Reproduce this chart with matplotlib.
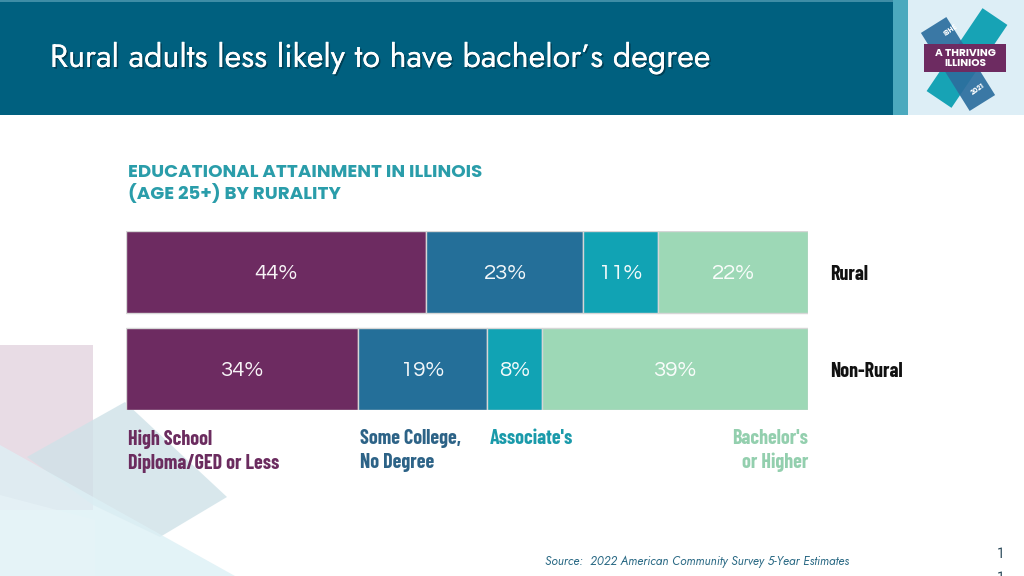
import numpy as np
import matplotlib
matplotlib.use("Agg")
import matplotlib.pyplot as plt
from matplotlib.patches import Rectangle, Polygon
import matplotlib.patheffects as pe
import logging
logging.getLogger("matplotlib.font_manager").setLevel(logging.ERROR)

# ---------------- data ----------------
groups = ["Rural", "Non-Rural"]
categories = ["High School\nDiploma/GED or Less", "Some College,\nNo Degree",
              "Associate's", "Bachelor's\nor Higher"]
rural = [44, 23, 11, 22]
non_rural = [34, 19, 8, 39]
values = [rural, non_rural]

title = "Rural adults less likely to have bachelor\u2019s degree"
subtitle = "EDUCATIONAL ATTAINMENT IN ILLINOIS\n(AGE 25+) BY RURALITY"
source = "Source:  2022 American Community Survey 5-Year Estimates"

bar_colors = ["#6D2B61", "#246F99", "#11A3B4", "#9DD8B6"]
label_colors = ["#6B2C5F", "#2D6387", "#1A9AAA", "#93CFAE"]

F_TITLE = ["Jost", "Questrial", "Lato", "DejaVu Sans"]
F_PCT = ["Questrial", "Didact Gothic", "Jost", "Lato", "DejaVu Sans"]
F_COND = ["Barlow Condensed", "Roboto Condensed", "Archivo Narrow", "Oswald", "DejaVu Sans"]
F_SUB = ["Poppins", "Lato", "DejaVu Sans"]

W, H = 1024, 576
fig = plt.figure(figsize=(W / 100, H / 100), dpi=100)
fig.patch.set_facecolor("white")

# ---------------- background / decoration axes (pixel coords) ----------------
bg = fig.add_axes([0, 0, 1, 1], zorder=0)
bg.set_xlim(0, W)
bg.set_ylim(H, 0)
bg.axis("off")

bg.add_patch(Polygon([(0, 345), (93, 345), (93, 510), (0, 510)], closed=True,
                     facecolor="#E4D6E1", edgecolor="none", alpha=0.85))
bg.add_patch(Polygon([(27, 457), (125, 402), (227, 497), (160, 537), (93, 505)], closed=True,
                     facecolor="#CFE2E8", edgecolor="none", alpha=0.8))
bg.add_patch(Polygon([(0, 445), (0, 576), (235, 576)], closed=True,
                     facecolor="#DDF0F5", edgecolor="none", alpha=0.8))
bg.add_patch(Polygon([(0, 495), (0, 576), (95, 576), (95, 520)], closed=True,
                     facecolor="#E8F4F8", edgecolor="none", alpha=0.6))

# title bar
bg.add_patch(Rectangle((0, 0), 893, 115, facecolor="#00607F", edgecolor="none"))
bg.add_patch(Rectangle((0, 0), 893, 2, facecolor="#3E8DA6", edgecolor="none"))
bg.add_patch(Rectangle((893, 0), 15, 115, facecolor="#4BA9BE", edgecolor="none"))
bg.add_patch(Rectangle((908, 0), 116, 115, facecolor="#DDEEF6", edgecolor="none"))

bg.text(50, 58, title, color="white", fontsize=23.2, family=F_TITLE,
        va="center", ha="left",
        path_effects=[pe.withSimplePatchShadow(offset=(1.2, -1.2), shadow_rgbFace="#002a3a", alpha=0.6),
                      pe.Normal()])

# logo
def rot_rect(cx, cy, length, width, ang_deg):
    a = np.deg2rad(ang_deg)
    ux, uy = np.cos(a), -np.sin(a)
    vx, vy = -uy, ux
    hl, hw = length / 2, width / 2
    return [(cx + ux * hl + vx * hw, cy + uy * hl + vy * hw),
            (cx + ux * hl - vx * hw, cy + uy * hl - vy * hw),
            (cx - ux * hl - vx * hw, cy - uy * hl - vy * hw),
            (cx - ux * hl + vx * hw, cy - uy * hl + vy * hw)]

bg.add_patch(Polygon(rot_rect(967, 58, 100, 30, 56), facecolor="#17A3B5", edgecolor="none"))
bg.add_patch(Polygon(rot_rect(958, 64, 92, 30, -58), facecolor="#2C6E9E", edgecolor="none", alpha=0.92))
bg.add_patch(Rectangle((924, 44), 82, 28, facecolor="#6D2B61", edgecolor="none"))
bg.text(965.5, 53, "A THRIVING", color="white", fontsize=7.6, weight="bold",
        family=F_SUB, ha="center", va="center")
bg.text(965.5, 64, "ILLINIOS", color="white", fontsize=7.6, weight="bold",
        family=F_SUB, ha="center", va="center")
bg.text(951, 30, "IBHE", color="white", fontsize=5, weight="bold",
        family=F_SUB, ha="center", va="center", rotation=35)
bg.text(978, 89, "2021", color="white", fontsize=5, weight="bold",
        family=F_SUB, ha="center", va="center", rotation=35)

# subtitle
bg.text(128, 164, subtitle, color="#2A9DAA", fontsize=13.2, weight="bold",
        family=F_SUB, ha="left", va="top", linespacing=1.13)

# source & page number
bg.text(545, 562, source, color="#2B6A85", fontsize=8.6, style="italic",
        family=F_TITLE, ha="left", va="center")
bg.text(1000, 553, "1", color="#2B4A5A", fontsize=11, family=F_TITLE, ha="center", va="center")
bg.text(1000, 577, "1", color="#2B4A5A", fontsize=11, family=F_TITLE, ha="center", va="center")

# ---------------- bar axes ----------------
ax = fig.add_axes([126 / W, 1 - 410 / H, 682 / W, 179 / H], zorder=2)
ax.patch.set_alpha(0)
bar_h = 0.845
ax.set_xlim(0, 100)
ax.set_ylim(1 + bar_h / 2, -bar_h / 2)
ax.axis("off")

ypos = np.arange(len(groups))
for gi, vals in enumerate(values):
    left = 0
    for ci, v in enumerate(vals):
        ax.barh(ypos[gi], v, left=left, height=bar_h, color=bar_colors[ci],
                edgecolor="#D6D6D6", linewidth=1.0)
        ax.text(left + v / 2, ypos[gi] + 0.015, f"{v}%", color="white", fontsize=16,
                family=F_PCT, ha="center", va="center", alpha=0.95)
        left += v
    ax.text(103.2, ypos[gi] + 0.025, groups[gi], color="#111111", fontsize=14.4,
            family=F_COND, weight="bold", ha="left", va="center",
            clip_on=False)

# category labels below, aligned to the segments of the lower bar
starts = np.concatenate([[0], np.cumsum(non_rural)[:-1]])
label_y = 1 + bar_h / 2 + 19 / 97
for ci, cat in enumerate(categories):
    if ci == len(categories) - 1:
        x, ha = 100, "right"
    else:
        x, ha = starts[ci] + 0.3, "left"
    ax.text(x, label_y, cat, color=label_colors[ci], fontsize=14.4,
            family=F_COND, weight="bold", ha=ha, va="top",
            linespacing=1.3, multialignment=ha, clip_on=False)

fig.savefig("out.png", dpi=100)
